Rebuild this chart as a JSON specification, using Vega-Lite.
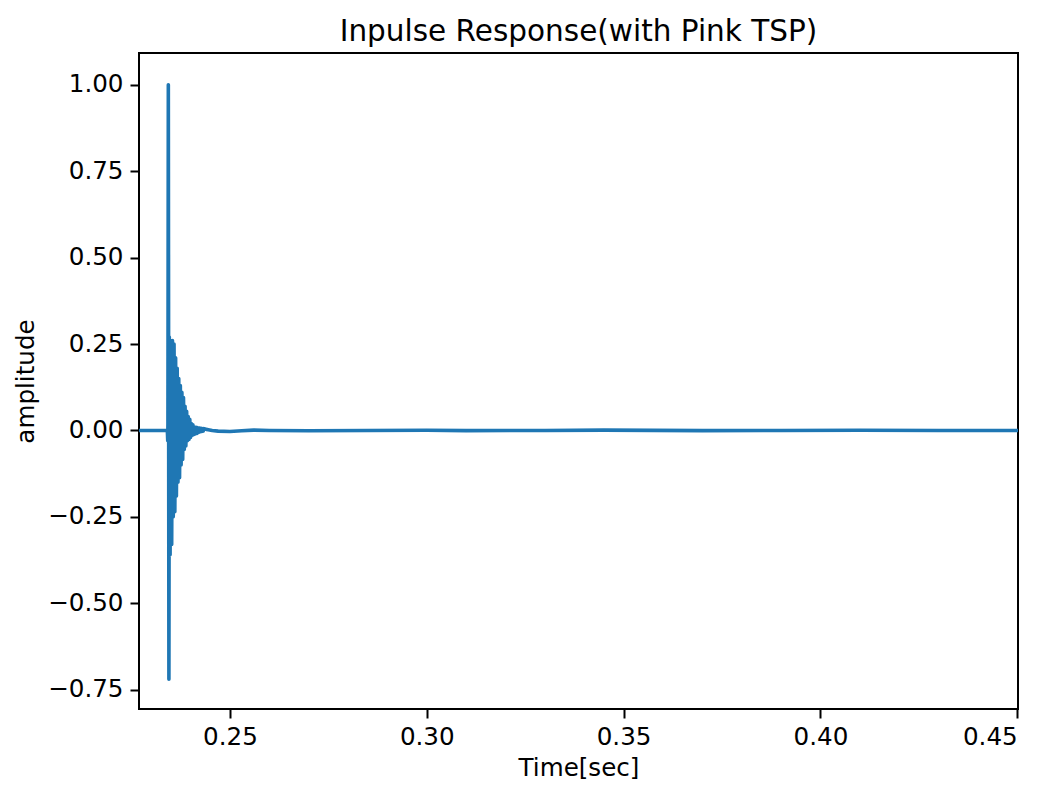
{
  "$schema": "https://vega.github.io/schema/vega-lite/v6.json",
  "width": 879,
  "height": 656,
  "autosize": {"type": "none"},
  "padding": {"left": 139, "top": 53, "right": 19, "bottom": 78},
  "background": "white",
  "title": {
    "text": "Inpulse Response(with Pink TSP)",
    "font": "DejaVu Sans",
    "fontSize": 29.5,
    "fontWeight": "normal",
    "color": "black",
    "anchor": "middle",
    "baseline": "alphabetic",
    "offset": -17
  },
  "config": {
    "view": {"stroke": "black", "strokeWidth": 2},
    "axis": {
      "labelFont": "DejaVu Sans",
      "labelFontSize": 24.6,
      "labelColor": "black",
      "titleFont": "DejaVu Sans",
      "titleFontSize": 24.6,
      "titleFontWeight": "normal",
      "titleColor": "black",
      "tickColor": "black",
      "tickWidth": 2,
      "tickSize": 9,
      "labelPadding": 7,
      "domain": false,
      "grid": false
    }
  },
  "data": {
    "values": [
      {"t": 0.2269, "a": 0.0},
      {"t": 0.2300, "a": 0.0},
      {"t": 0.2330, "a": 0.0},
      {"t": 0.2341, "a": 0.0},
      {"t": 0.2342, "a": -0.03},
      {"t": 0.23425, "a": 0.02},
      {"t": 0.23435, "a": 1.0},
      {"t": 0.23450, "a": -0.72},
      {"t": 0.2346, "a": 0.27},
      {"t": 0.2348, "a": -0.36},
      {"t": 0.2350, "a": 0.26},
      {"t": 0.2352, "a": -0.33},
      {"t": 0.2354, "a": 0.26},
      {"t": 0.2356, "a": -0.25},
      {"t": 0.2358, "a": 0.25},
      {"t": 0.2360, "a": -0.235},
      {"t": 0.2362, "a": 0.21},
      {"t": 0.2364, "a": -0.19},
      {"t": 0.2366, "a": 0.18},
      {"t": 0.2368, "a": -0.15},
      {"t": 0.2370, "a": 0.15},
      {"t": 0.2372, "a": -0.137},
      {"t": 0.2374, "a": 0.13},
      {"t": 0.2376, "a": -0.10},
      {"t": 0.2378, "a": 0.11},
      {"t": 0.2380, "a": -0.084},
      {"t": 0.2382, "a": 0.095},
      {"t": 0.2384, "a": -0.055},
      {"t": 0.2386, "a": 0.07},
      {"t": 0.2388, "a": -0.045},
      {"t": 0.2390, "a": 0.055},
      {"t": 0.2392, "a": -0.03},
      {"t": 0.2394, "a": 0.04},
      {"t": 0.2396, "a": -0.026},
      {"t": 0.2398, "a": 0.032},
      {"t": 0.2400, "a": -0.02},
      {"t": 0.2402, "a": 0.02},
      {"t": 0.2404, "a": -0.014},
      {"t": 0.2406, "a": 0.016},
      {"t": 0.2408, "a": -0.012},
      {"t": 0.2410, "a": 0.01},
      {"t": 0.2412, "a": -0.01},
      {"t": 0.2414, "a": 0.009},
      {"t": 0.2416, "a": -0.009},
      {"t": 0.2418, "a": 0.008},
      {"t": 0.2420, "a": -0.006},
      {"t": 0.2422, "a": 0.007},
      {"t": 0.2424, "a": -0.004},
      {"t": 0.2426, "a": 0.006},
      {"t": 0.2428, "a": -0.003},
      {"t": 0.2430, "a": 0.005},
      {"t": 0.2432, "a": -0.002},
      {"t": 0.2434, "a": 0.005},
      {"t": 0.2437, "a": 0.004},
      {"t": 0.2440, "a": 0.003},
      {"t": 0.2445, "a": 0.002},
      {"t": 0.2455, "a": 0.0},
      {"t": 0.2470, "a": -0.002},
      {"t": 0.2500, "a": -0.003},
      {"t": 0.2530, "a": -0.001},
      {"t": 0.2560, "a": 0.001},
      {"t": 0.2600, "a": 0.0},
      {"t": 0.2700, "a": -0.001},
      {"t": 0.2850, "a": 0.0},
      {"t": 0.3000, "a": 0.0007},
      {"t": 0.3100, "a": -0.0005},
      {"t": 0.3300, "a": 0.0},
      {"t": 0.3450, "a": 0.0008},
      {"t": 0.3700, "a": -0.0006},
      {"t": 0.3900, "a": 0.0},
      {"t": 0.4100, "a": 0.0004},
      {"t": 0.4300, "a": -0.0003},
      {"t": 0.4502, "a": 0.0}
    ]
  },
  "mark": {"type": "line", "color": "#1f77b4", "strokeWidth": 3.6, "strokeJoin": "round", "strokeCap": "square", "clip": true},
  "encoding": {
    "x": {
      "field": "t",
      "type": "quantitative",
      "title": "Time[sec]",
      "scale": {"domain": [0.2269, 0.4502], "nice": false, "zero": false},
      "axis": {"values": [0.25, 0.3, 0.35, 0.4, 0.45], "format": ".2f", "titlePadding": 8}
    },
    "y": {
      "field": "a",
      "type": "quantitative",
      "title": "amplitude",
      "scale": {"domain": [-0.806, 1.092], "nice": false, "zero": false},
      "axis": {
        "values": [-0.75, -0.5, -0.25, 0, 0.25, 0.5, 0.75, 1.0],
        "labelExpr": "replace(format(datum.value, '.2f'), '-', '\u2212')",
        "titlePadding": 9
      }
    }
  }
}
